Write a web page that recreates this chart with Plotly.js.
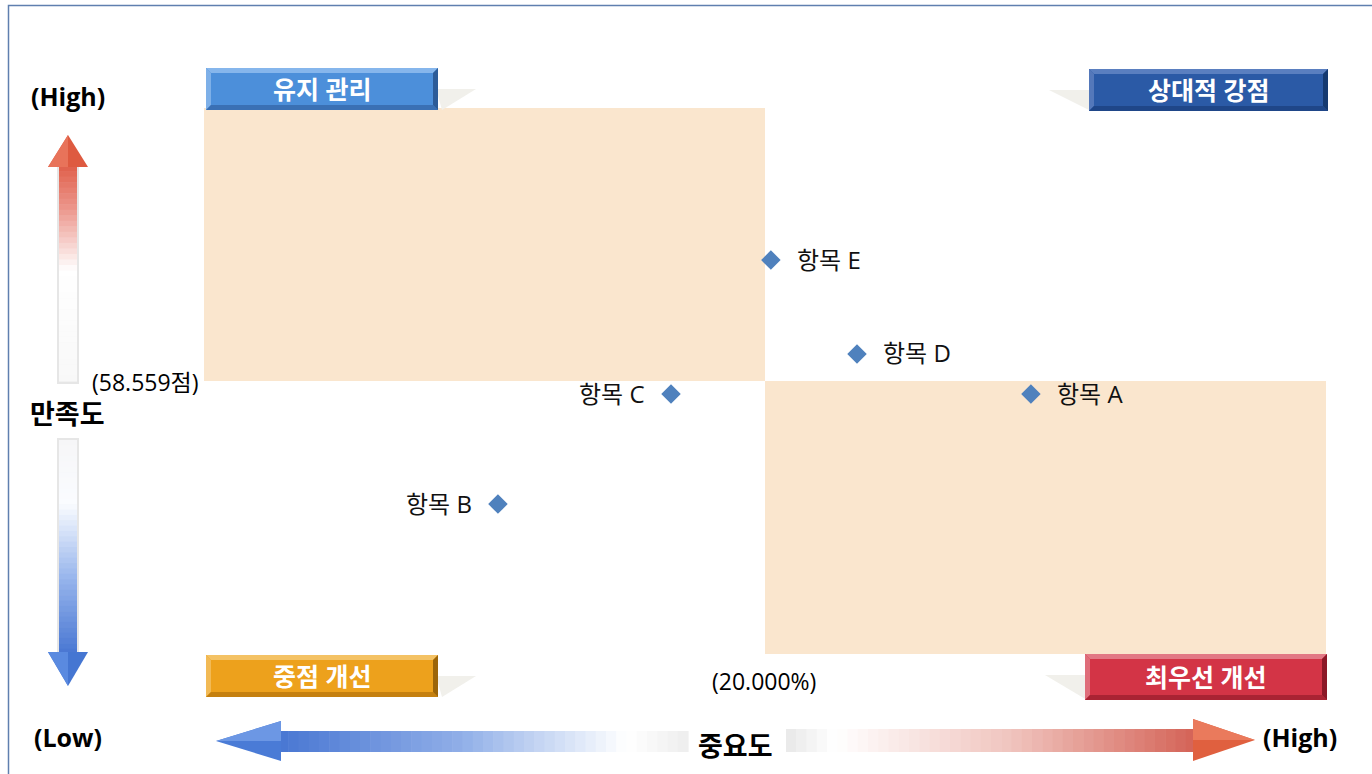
<!DOCTYPE html>
<html>
<head>
<meta charset="utf-8">
<script src="https://cdn.plot.ly/plotly-3.0.1.min.js"></script>
<style>
  html, body { margin: 0; padding: 0; background: #fff; }
  #chart { width: 1372px; height: 774px; }
</style>
</head>
<body>
<div id="chart"></div>
<script>
// items: importance (%) on x, satisfaction (score) on y
var items        = ['항목 A', '항목 B', '항목 C', '항목 D', '항목 E'];
var importance   = [29.48, 10.48, 16.65, 23.28, 20.21];
var satisfaction = [58.08, 54.05, 58.08, 59.55, 62.99];

// quadrant split values (averages)
var xMean = 20.000;
var yMean = 58.559;

var quadNames = ['유지 관리', '상대적 강점', '중점 개선', '최우선 개선'];

var FONT = '"Open Sans", "Noto Sans CJK KR", sans-serif';

// plot area in pixels
var L = 204, R = 1326, T = 108, B = 654;
var xr = [xMean - 20, xMean + 20];
var yr = [yMean - 10, yMean + 10];

function px(x){ return (x - L) / (R - L); }
function py(y){ return (B - y) / (B - T); }

var shapes = [];
var annotations = [];

// quadrant shading
shapes.push({type:'rect', xref:'x', yref:'y', layer:'below',
  x0: xr[0], x1: xMean, y0: yMean, y1: yr[1],
  fillcolor:'#FAE6CE', line:{width:0}});
shapes.push({type:'rect', xref:'x', yref:'y', layer:'below',
  x0: xMean, x1: xr[1], y0: yr[0], y1: yMean,
  fillcolor:'#FAE6CE', line:{width:0}});

function pathOf(pts){
  return 'M ' + pts.map(function(p){ return px(p[0]) + ',' + py(p[1]); }).join(' L ') + ' Z';
}
function poly(pts, color){
  shapes.push({type:'path', xref:'paper', yref:'paper', path: pathOf(pts),
    fillcolor: color, line:{width:0}});
}
function lerp(stops, t){
  for(var i = 0; i < stops.length - 1; i++){
    var a = stops[i], b = stops[i+1];
    if(t <= b[0]){
      var f = (t - a[0]) / (b[0] - a[0]);
      var c = [0,1,2].map(function(k){ return Math.round(a[1][k] + (b[1][k]-a[1][k]) * f); });
      return 'rgb(' + c.join(',') + ')';
    }
  }
  var l = stops[stops.length-1][1];
  return 'rgb(' + l.join(',') + ')';
}
// gradient bar made of thin slices
function gradBar(x0, y0, x1, y1, stops, vertical){
  var n = 40;
  for(var i = 0; i < n; i++){
    var t = (i + 0.5) / n;
    var c = lerp(stops, t);
    if(vertical){
      var a = y0 + (y1-y0)*i/n, b = y0 + (y1-y0)*(i+1)/n + 0.6;
      poly([[x0,a],[x1,a],[x1,b],[x0,b]], c);
    }else{
      var a2 = x0 + (x1-x0)*i/n, b2 = x0 + (x1-x0)*(i+1)/n + 0.6;
      poly([[a2,y0],[b2,y0],[b2,y1],[a2,y1]], c);
    }
  }
}

// frame
shapes.push({type:'rect', xref:'paper', yref:'paper',
  x0: px(8.5), x1: px(1390), y0: py(5.5), y1: py(800),
  fillcolor:'rgba(0,0,0,0)', line:{color:'#5F7FAF', width:1.5}});

// vertical arrow up (red)
poly([[57,160],[79,160],[79,384],[57,384]], '#E6E6E6');
gradBar(59, 160, 77, 381, [[0,[222,88,66]],[0.22,[236,150,140]],[0.5,[255,255,255]],[1,[248,248,248]]], true);
poly([[68,135],[88,167],[48,167]], '#DE5A40');
poly([[68,135],[68,167],[48,167]], '#E8735A');

// vertical arrow down (blue)
poly([[57,438],[79,438],[79,655],[57,655]], '#E6E6E6');
gradBar(59, 440, 77, 654, [[0,[246,246,248]],[0.3,[250,252,255]],[0.65,[150,180,236]],[1,[72,118,210]]], true);
poly([[48,652],[88,652],[68,686]], '#4576D2');
poly([[48,652],[68,652],[68,686]], '#5A8AE0');

// horizontal arrow left (blue)
gradBar(278, 731, 688, 752, [[0,[72,118,210]],[0.45,[145,175,232]],[0.85,[255,255,255]],[1,[238,238,238]]], false);
poly([[216,741],[281,721],[281,761]], '#4A7BD6');
poly([[216,741],[281,721],[281,741]], '#6C97E4');

// horizontal arrow right (red)
gradBar(786, 729, 1196, 752, [[0,[232,232,232]],[0.12,[255,255,255]],[0.55,[240,196,190]],[1,[212,98,86]]], false);
poly([[1255,740],[1193,719],[1193,761]], '#E0603F');
poly([[1255,740],[1193,719],[1193,740]], '#EA7A5C');

// quadrant label boxes with bevel
function bevelBox(x0, y0, x1, y1, c, label, shadowRight){
  // soft shadow
  if(shadowRight){
    poly([[x1-2, y0+21],[x1+38, y0+21],[x1+4, y1]], '#F1F0EB');
  }else{
    poly([[x0-40, y0+21],[x0+2, y0+21],[x0+2, y1]], '#F1F0EB');
  }
  var b = 5;
  poly([[x0,y0],[x1,y0],[x1,y1],[x0,y1]], c.main);
  poly([[x0,y0],[x1,y0],[x1-b,y0+b],[x0+b,y0+b]], c.top);
  poly([[x0,y0],[x0+b,y0+b],[x0+b,y1-b],[x0,y1]], c.left);
  poly([[x0,y1],[x0+b,y1-b],[x1-b,y1-b],[x1,y1]], c.bot);
  poly([[x1,y0],[x1,y1],[x1-b,y1-b],[x1-b,y0+b]], c.right);
  annotations.push({xref:'paper', yref:'paper', x: px((x0+x1)/2), y: py((y0+y1)/2),
    text: '<b>' + label + '</b>', showarrow:false, xanchor:'center', yanchor:'middle',
    font:{family:FONT, size:25, color:'#FFFFFF'}});
}
bevelBox(206, 68, 438, 110, {main:'#4C8FDA', top:'#86B6EC', left:'#7EB0E8', bot:'#3A70B4', right:'#2D5C98'}, quadNames[0], true);
bevelBox(1089, 69, 1328, 111, {main:'#2B5AA6', top:'#5A7FC0', left:'#5478BA', bot:'#1F4688', right:'#163A70'}, quadNames[1], false);
bevelBox(206, 655, 438, 697, {main:'#EDA11C', top:'#F4C264', left:'#F2BA55', bot:'#C5800F', right:'#9C6509'}, quadNames[2], true);
bevelBox(1085, 654, 1327, 700, {main:'#D33446', top:'#E27885', left:'#DF6D7A', bot:'#A92333', right:'#8B1827'}, quadNames[3], false);

// axis words
function label(x, y, text, size, bold, anchor){
  annotations.push({xref:'paper', yref:'paper', x: px(x), y: py(y),
    text: bold ? '<b>' + text + '</b>' : text, showarrow:false,
    xanchor: anchor || 'center', yanchor:'middle',
    font:{family:FONT, size:size, color:'#000000'}});
}
label(68, 96, '(High)', 25, true);
label(67, 413, '만족도', 27, true);
label(68, 737, '(Low)', 25, true);
label(735, 745, '중요도', 27, true);
label(1300, 737, '(High)', 25, true);
label(201, 382, '(' + yMean.toFixed(3) + '점)', 23, false, 'right');
label(764, 681, '(' + xMean.toFixed(3) + '%)', 23, false);

// point labels
for(var i = 0; i < items.length; i++){
  var right = importance[i] >= xMean;
  annotations.push({xref:'x', yref:'y', x: importance[i], y: satisfaction[i],
    text: items[i], showarrow:false, xanchor: right ? 'left' : 'right', yanchor:'middle',
    xshift: right ? 24 : -24, yshift: 1,
    font:{family:FONT, size:24, color:'#111111'}});
}

var trace1 = {
  x: importance,
  y: satisfaction,
  mode: 'markers',
  type: 'scatter',
  marker: {symbol:'diamond', size:15, color:'#4F81BD'},
  hoverinfo: 'skip',
  cliponaxis: false
};

var layout = {
  width: 1372, height: 774,
  margin: {l: L, r: 1372 - R, t: T, b: 774 - B, pad: 0},
  paper_bgcolor: '#FFFFFF',
  plot_bgcolor: 'rgba(0,0,0,0)',
  showlegend: false,
  xaxis: {range: xr, visible: false, showgrid: false, zeroline: false, fixedrange: true},
  yaxis: {range: yr, visible: false, showgrid: false, zeroline: false, fixedrange: true},
  shapes: shapes,
  annotations: annotations
};

Plotly.newPlot('chart', [trace1], layout, {displayModeBar: false, staticPlot: true});
</script>
</body>
</html>
